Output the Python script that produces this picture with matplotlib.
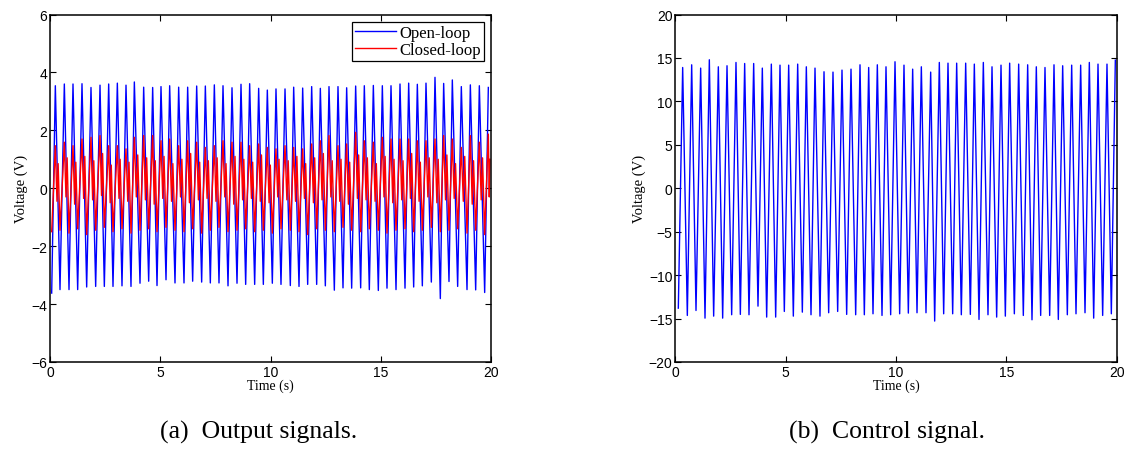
import matplotlib
matplotlib.use("Agg")
import matplotlib.pyplot as plt
import numpy as np

# ---------------- data ----------------
# Open-loop output (left panel, blue): per-cycle extrema
ol_peak_t = [0.242, 0.650, 1.043, 1.451, 1.859, 2.268, 2.661, 3.054, 3.447, 3.825,
             4.248, 4.656, 5.034, 5.427, 5.835, 6.243, 6.652, 7.045, 7.453, 7.846,
             8.254, 8.662, 9.055, 9.463, 9.856, 10.249, 10.658, 11.051, 11.459, 11.867,
             12.260, 12.653, 13.061, 13.454, 13.862, 14.255, 14.664, 15.072, 15.465, 15.873,
             16.266, 16.659, 17.052, 17.460, 17.853, 18.246, 18.654, 19.063, 19.471, 19.879]
ol_peak_v = [3.54, 3.60, 3.60, 3.61, 3.48, 3.56, 3.60, 3.63, 3.56, 3.67,
             3.49, 3.48, 3.51, 3.54, 3.49, 3.49, 3.53, 3.53, 3.57, 3.54,
             3.47, 3.59, 3.61, 3.45, 3.39, 3.43, 3.43, 3.49, 3.46, 3.51,
             3.45, 3.51, 3.51, 3.47, 3.53, 3.54, 3.55, 3.54, 3.54, 3.60,
             3.63, 3.59, 3.63, 3.83, 3.62, 3.74, 3.51, 3.57, 3.54, 3.48]
ol_trough_t = [0.076, 0.454, 0.862, 1.255, 1.663, 2.071, 2.464, 2.857, 3.265, 3.673,
               4.082, 4.475, 4.853, 5.261, 5.669, 6.077, 6.470, 6.878, 7.271, 7.664,
               8.073, 8.481, 8.874, 9.282, 9.675, 10.083, 10.476, 10.899, 11.293, 11.686,
               12.094, 12.487, 12.895, 13.288, 13.681, 14.089, 14.482, 14.890, 15.283, 15.692,
               16.100, 16.493, 16.886, 17.294, 17.702, 18.095, 18.488, 18.912, 19.305, 19.713]
ol_trough_v = [-3.62, -3.50, -3.50, -3.50, -3.41, -3.39, -3.39, -3.39, -3.37, -3.39,
               -3.28, -3.21, -3.36, -3.16, -3.27, -3.27, -3.21, -3.24, -3.27, -3.27,
               -3.37, -3.28, -3.32, -3.32, -3.32, -3.28, -3.32, -3.36, -3.39, -3.32,
               -3.32, -3.37, -3.52, -3.44, -3.45, -3.44, -3.50, -3.53, -3.45, -3.50,
               -3.45, -3.41, -3.37, -3.24, -3.81, -3.22, -3.39, -3.50, -3.51, -3.60]

# Closed-loop output (left panel, red): per-cycle extrema and the inner wiggle
cl_peak_v = [1.47, 1.59, 1.47, 1.70, 1.76, 1.82, 1.47, 1.47, 1.36, 1.76,
             1.82, 1.82, 1.64, 1.70, 1.47, 1.64, 1.59, 1.41, 1.47, 1.64,
             1.59, 1.59, 1.47, 1.53, 1.41, 1.36, 1.47, 1.41, 1.36, 1.53,
             1.64, 1.82, 1.47, 1.53, 1.93, 1.64, 1.59, 1.76, 1.70, 1.70,
             1.70, 1.64, 1.64, 1.70, 1.82, 1.70, 1.41, 1.82, 1.59, 1.87]
cl_dip_v = [-0.45, -0.30, -0.55, -0.35, -0.40, -0.25, -0.50, -0.35, -0.45, -0.30,
            -0.40, -0.55, -0.35, -0.45, -0.30, -0.50, -0.40, -0.35, -0.45, -0.30,
            -0.55, -0.40, -0.35, -0.45, -0.50, -0.30, -0.40, -0.45, -0.35, -0.50,
            -0.40, -0.30, -0.45, -0.55, -0.35, -0.40, -0.45, -0.30, -0.50, -0.40,
            -0.35, -0.45, -0.30, -0.50, -0.40, -0.35, -0.45, -0.55, -0.40, -0.30]
cl_bump_v = [0.85, 1.05, 0.90, 1.10, 0.95, 1.20, 0.80, 1.00, 0.90, 1.15,
             1.05, 0.95, 1.10, 0.85, 1.00, 1.20, 0.90, 0.95, 1.05, 0.85,
             1.10, 1.00, 0.90, 1.15, 0.80, 1.00, 0.95, 1.10, 0.85, 1.05,
             1.20, 0.95, 1.00, 0.90, 1.15, 1.05, 0.85, 1.10, 1.00, 0.95,
             1.20, 0.90, 1.05, 1.00, 1.15, 0.85, 1.10, 0.95, 1.05, 1.00]
cl_trough_v = [-1.50, -1.45, -1.55, -1.40, -1.60, -1.45, -1.35, -1.50, -1.40, -1.55,
               -1.45, -1.40, -1.50, -1.35, -1.45, -1.50, -1.40, -1.55, -1.45, -1.35,
               -1.50, -1.45, -1.40, -1.50, -1.45, -1.55, -1.40, -1.45, -1.50, -1.60,
               -1.40, -1.45, -1.50, -1.35, -1.45, -1.50, -1.40, -1.45, -1.55, -1.45,
               -1.40, -1.50, -1.45, -1.35, -1.50, -1.45, -1.40, -1.55, -1.45, -1.60]

# Control signal (right panel, blue): per-cycle extrema
u_peak_t = [0.334, 0.742, 1.149, 1.542, 1.950, 2.343, 2.750, 3.143, 3.551, 3.943,
            4.351, 4.744, 5.137, 5.545, 5.937, 6.330, 6.738, 7.145, 7.553, 7.961,
            8.369, 8.762, 9.154, 9.547, 9.955, 10.362, 10.755, 11.148, 11.571, 11.963,
            12.356, 12.749, 13.157, 13.549, 13.957, 14.350, 14.758, 15.150, 15.558, 15.966,
            16.358, 16.751, 17.159, 17.552, 17.960, 18.367, 18.760, 19.153, 19.560, 19.938]
u_peak_v = [13.90, 14.21, 13.83, 14.79, 13.98, 14.10, 14.48, 14.36, 14.36, 13.83,
            14.29, 14.17, 14.17, 14.29, 13.98, 13.83, 13.41, 13.37, 13.60, 13.71,
            14.21, 13.90, 14.21, 13.98, 14.56, 14.17, 13.71, 13.98, 13.37, 14.48,
            14.40, 14.40, 14.40, 14.29, 14.48, 13.98, 14.17, 14.40, 14.29, 14.21,
            13.98, 13.90, 14.21, 14.10, 14.17, 14.17, 14.48, 14.29, 14.29, 14.75]
u_trough_t = [0.137, 0.545, 0.938, 1.346, 1.738, 2.146, 2.554, 2.947, 3.339, 3.747,
              4.140, 4.548, 4.940, 5.348, 5.756, 6.149, 6.556, 6.949, 7.357, 7.765,
              8.173, 8.565, 8.958, 9.366, 9.758, 10.166, 10.559, 10.952, 11.359, 11.752,
              12.160, 12.568, 12.960, 13.368, 13.761, 14.168, 14.561, 14.954, 15.362, 15.769,
              16.162, 16.555, 16.963, 17.355, 17.763, 18.156, 18.564, 18.957, 19.364, 19.757]
u_trough_v = [-13.80, -14.64, -14.07, -14.95, -14.72, -14.95, -14.56, -14.52, -14.56, -13.57,
              -14.83, -14.83, -14.18, -14.72, -14.26, -14.56, -14.72, -14.33, -14.18, -14.52,
              -14.56, -14.56, -14.45, -14.64, -14.56, -14.45, -14.37, -14.33, -14.33, -15.29,
              -14.45, -14.45, -14.56, -14.52, -15.10, -14.56, -14.83, -14.72, -14.45, -14.64,
              -15.14, -14.64, -14.64, -15.10, -14.56, -14.45, -14.33, -14.95, -14.64, -14.45]

left_xticks = [0, 5, 10, 15, 20]
left_yticks = [-6, -4, -2, 0, 2, 4, 6]
right_yticks = [-20, -15, -10, -5, 0, 5, 10, 15, 20]
xlabel = "Time (s)"
ylabel = "Voltage (V)"
captions = ["(a)  Output signals.", "(b)  Control signal."]
legend_labels = ["Open-loop", "Closed-loop"]


def merge(times, values):
    t = np.concatenate([np.asarray(a, float) for a in times])
    v = np.concatenate([np.asarray(a, float) for a in values])
    o = np.argsort(t)
    return t[o], v[o]


ol_t, ol_v = merge([ol_peak_t, ol_trough_t], [ol_peak_v, ol_trough_v])
pk = np.asarray(ol_peak_t)
tr = np.asarray(ol_trough_t)
nxt = np.append(tr[1:], 20.0)
cl_t, cl_v = merge([pk, pk + 0.35 * (nxt - pk), pk + 0.6 * (nxt - pk), tr],
                   [cl_peak_v, cl_dip_v, cl_bump_v, cl_trough_v])
u_t, u_v = merge([u_peak_t, u_trough_t], [u_peak_v, u_trough_v])

SERIF = ["Liberation Serif", "DejaVu Serif"]
SANS = ["Liberation Sans", "DejaVu Sans"]

fig = plt.figure(figsize=(11.28, 4.56), dpi=100)
W, H = 1128.0, 456.0
axL = fig.add_axes([50 / W, 1 - 363 / H, 441 / W, (363 - 15.5) / H])
axR = fig.add_axes([675.3 / W, 1 - 363 / H, 441.4 / W, (363 - 15.5) / H])

axL.plot(ol_t, ol_v, color=(0, 0, 1), lw=1.0, label=legend_labels[0])
axL.plot(cl_t, cl_v, color=(1, 0, 0), lw=1.0, label=legend_labels[1])
axR.plot(u_t, u_v, color=(0, 0, 1), lw=1.0)

for ax, yt in ((axL, left_yticks), (axR, right_yticks)):
    ax.set_xlim(0, 20)
    ax.set_ylim(yt[0], yt[-1])
    ax.set_xticks(left_xticks)
    ax.set_yticks(yt)
    ax.tick_params(direction="in", top=True, right=True, length=4, width=0.8,
                   labelsize=10, pad=2)
    for lab in ax.get_xticklabels() + ax.get_yticklabels():
        lab.set_family(SANS)
    for s in ax.spines.values():
        s.set_linewidth(1.1)
    ax.set_xlabel(xlabel, family=SERIF, fontsize=10, labelpad=0)
    ax.set_ylabel(ylabel, family=SERIF, fontsize=10.5, labelpad=2)

leg = axL.legend(loc="upper right", prop={"family": SERIF, "size": 12},
                 frameon=True, fancybox=False, edgecolor="black", framealpha=1,
                 borderpad=0.2, handlelength=2.45, handletextpad=0.2, labelspacing=0.05,
                 borderaxespad=0.42)
leg.get_frame().set_linewidth(0.9)

fig.text(259 / W, 1 - 432 / H, captions[0], ha="center", va="center",
         family=SERIF, fontsize=18.5)
fig.text(887 / W, 1 - 432 / H, captions[1], ha="center", va="center",
         family=SERIF, fontsize=18.5)

fig.savefig("out.png", dpi=100)
